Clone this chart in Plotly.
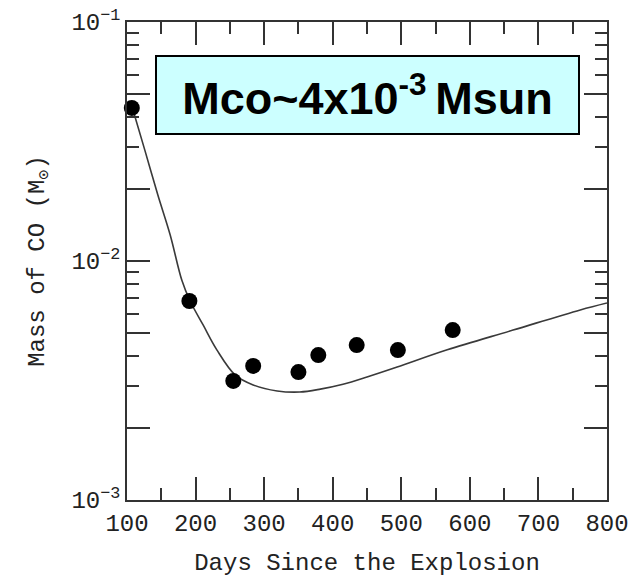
import plotly.graph_objects as go

# Observed CO masses (solar masses) versus days since the explosion
obs_days = [107, 191, 255, 284, 350, 379, 435, 495, 575]
obs_mass = [0.0437, 0.0068, 0.00315, 0.00364, 0.00343, 0.00404, 0.00445, 0.00424, 0.00514]

# Model curve
model_days = [108, 126, 145, 163, 180, 192, 211, 231, 258, 284, 319, 352,
              382, 415, 450, 494, 567, 663, 761, 800]
model_mass = [0.0436, 0.0291, 0.01888, 0.01285, 0.0083, 0.0068, 0.0054, 0.00425,
              0.00333, 0.00303, 0.00286, 0.00283, 0.00291, 0.00305, 0.00327,
              0.0036, 0.00425, 0.00514, 0.00624, 0.00667]

# Axis ticks
x_major = [100, 200, 300, 400, 500, 600, 700, 800]
x_labels = ["100", "200", "300", "400", "500", "600", "700", "800"]
x_minor = [150, 250, 350, 450, 550, 650, 750]
y_major = [1e-3, 2e-3, 5e-3, 1e-2, 2e-2, 5e-2, 1e-1]
y_labels = ["10<sup>−3</sup>", "", "", "10<sup>−2</sup>", "", "", "10<sup>−1</sup>"]
y_minor = [3e-3, 4e-3, 6e-3, 7e-3, 8e-3, 9e-3,
           3e-2, 4e-2, 6e-2, 7e-2, 8e-2, 9e-2]

AXIS = "#333333"
TEXT = "#222222"
MONO = "Liberation Mono, Courier New, monospace"

fig = go.Figure()

fig.add_trace(go.Scatter(
    x=model_days, y=model_mass, mode="lines",
    line=dict(color="#3a3a3a", width=1.6, shape="spline", smoothing=1.0),
    showlegend=False, hoverinfo="skip",
))

fig.add_trace(go.Scatter(
    x=obs_days, y=obs_mass, mode="markers",
    marker=dict(color="black", size=16, line=dict(width=0)),
    showlegend=False, cliponaxis=False,
))

common = dict(
    ticks="inside", ticklen=23, tickwidth=1.5, tickcolor=AXIS,
    showline=True, linecolor=AXIS, linewidth=1.5, mirror="allticks",
    showgrid=False, zeroline=False,
    tickfont=dict(family=MONO, size=24, color=TEXT),
)

fig.update_xaxes(
    range=[100, 800], tickmode="array", tickvals=x_major, ticktext=x_labels,
    minor=dict(tickmode="array", tickvals=x_minor, ticks="inside", ticklen=12,
               tickwidth=1.5, tickcolor=AXIS),
    title=dict(text="Days Since the Explosion",
               font=dict(family=MONO, size=24, color=TEXT), standoff=25),
    **common,
)

fig.update_yaxes(
    type="log", range=[-3, -1], tickmode="array", tickvals=y_major, ticktext=y_labels,
    minor=dict(tickmode="array", tickvals=y_minor, ticks="inside", ticklen=12,
               tickwidth=1.5, tickcolor=AXIS),
    title=dict(text="Mass of CO (M<sub>⊙</sub>)",
               font=dict(family=MONO, size=24, color=TEXT), standoff=20),
    **common,
)

fig.add_annotation(
    xref="paper", yref="paper", x=0.501, y=0.847,
    xanchor="center", yanchor="middle",
    text="<b>Mco~4x10<sup>-3 </sup>Msun</b>",
    font=dict(family="Liberation Sans, Arial, sans-serif", size=45, color="black"),
    showarrow=False,
    bgcolor="#ccffff", bordercolor="black", borderwidth=2, borderpad=1,
    width=419, height=74, align="center", valign="middle",
)

fig.update_layout(
    width=635, height=577, autosize=False,
    margin=dict(l=127, r=28, t=22, b=77),
    paper_bgcolor="white", plot_bgcolor="white",
    template="none",
)

fig.write_html("out.html")
